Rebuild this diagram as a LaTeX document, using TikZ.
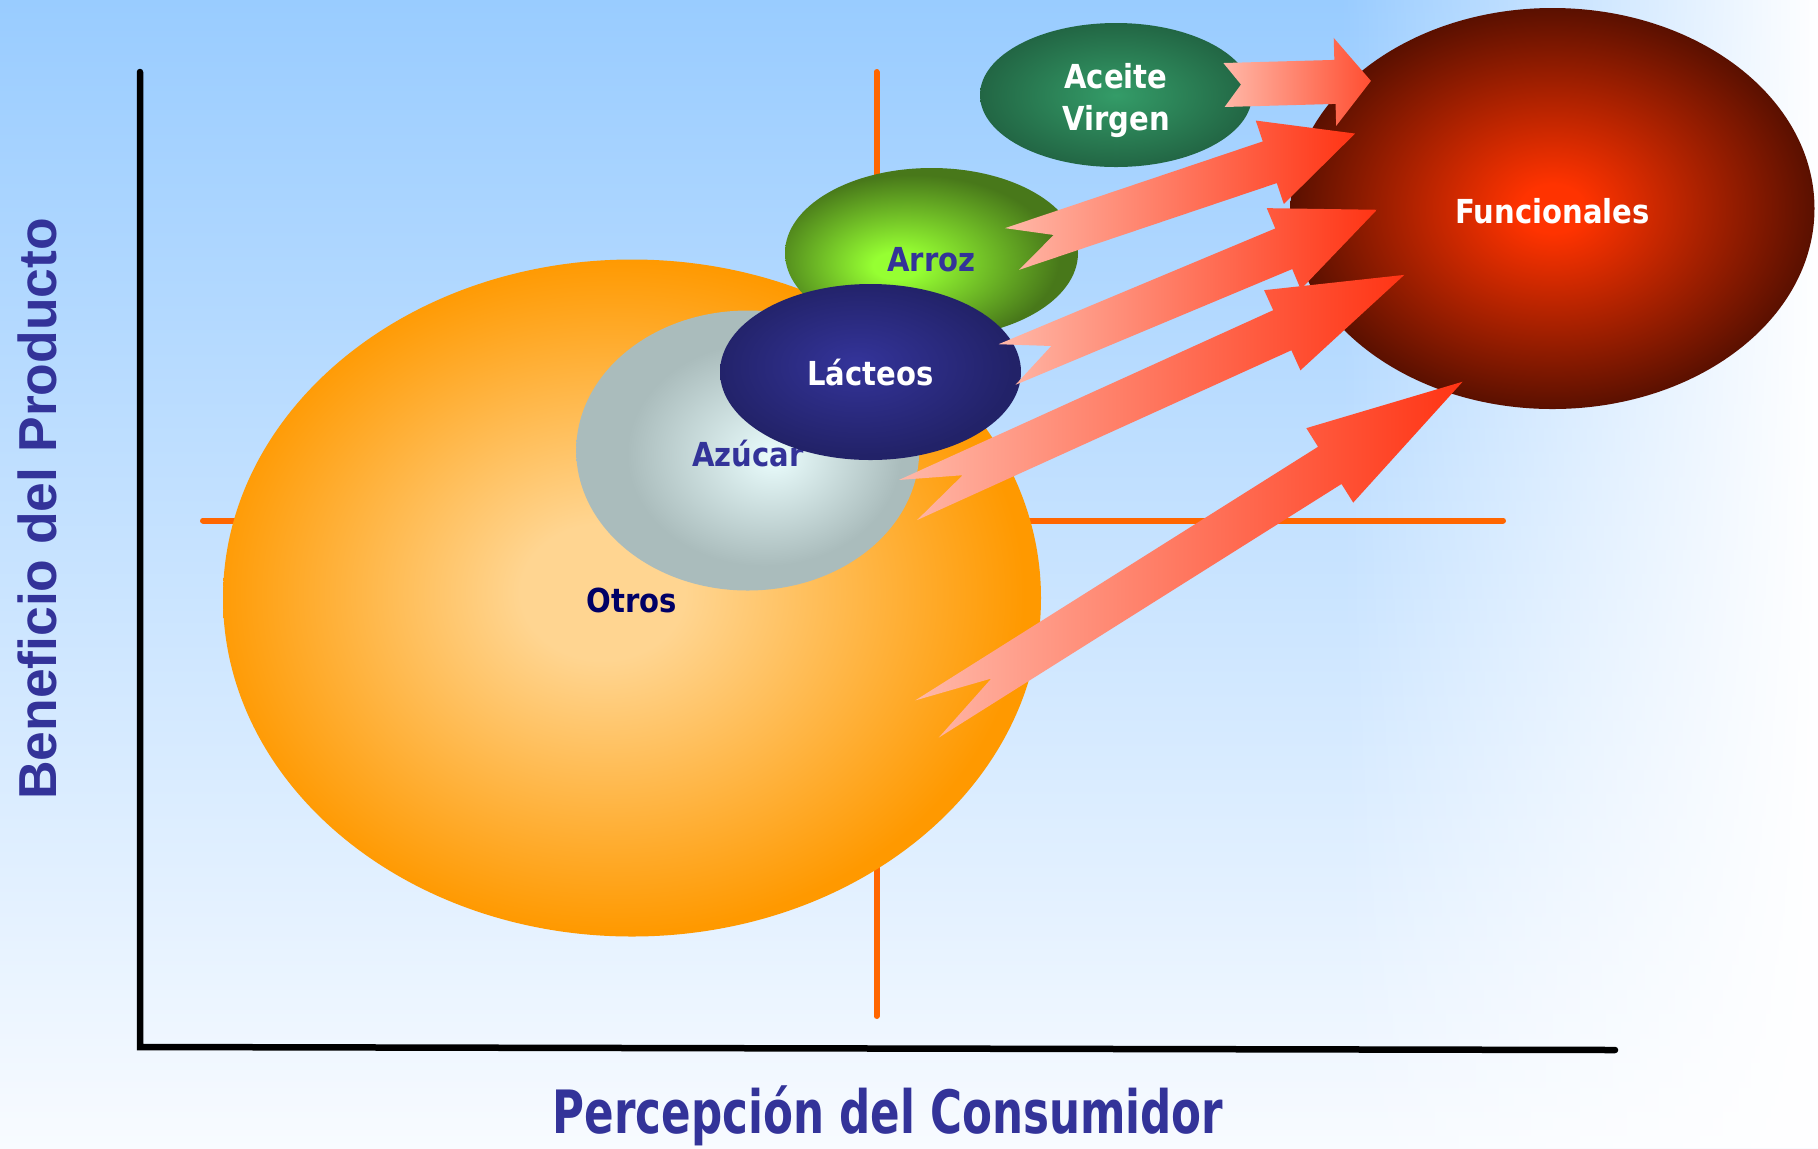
\documentclass[tikz,border=0pt]{standalone}
\usepackage{fontspec}
\newfontfamily\labelfont{DejaVu Sans}[FakeStretch=0.88]
\newfontfamily\narrowfont{DejaVu Sans}[FakeStretch=0.73]
\newfontfamily\axisfont{Liberation Sans}
\usetikzlibrary{shapes, fadings}

\definecolor{bgtop}{RGB}{153,204,255}
\definecolor{bgmid}{RGB}{198,224,255}
\definecolor{bgbot}{RGB}{248,251,255}
\definecolor{axisblue}{RGB}{51,51,153}
\definecolor{otrostext}{RGB}{0,0,102}
\definecolor{crossorange}{RGB}{255,102,0}
\definecolor{otrosin}{RGB}{255,213,145}
\definecolor{otrosout}{RGB}{255,153,0}
\definecolor{azucarin}{RGB}{234,253,253}
\definecolor{azucarout}{RGB}{170,188,188}
\definecolor{arrozin}{RGB}{150,255,50}
\definecolor{arrozout}{RGB}{72,120,26}
\definecolor{lacteosin}{RGB}{52,52,154}
\definecolor{lacteosout}{RGB}{34,34,104}
\definecolor{aceitein}{RGB}{52,156,104}
\definecolor{aceiteout}{RGB}{34,102,68}
\definecolor{funcin}{RGB}{255,51,0}
\definecolor{funcout}{RGB}{90,16,0}
\definecolor{arrowtail}{RGB}{255,184,168}
\definecolor{arrowhead}{RGB}{255,52,20}

\pgfdeclareradialshading{otrosball}{\pgfpoint{-2bp}{0.5bp}}{color(0bp)=(otrosin); color(5bp)=(otrosin); color(25bp)=(otrosout); color(50bp)=(otrosout)}
\pgfdeclareradialshading{azucarball}{\pgfpoint{4bp}{-1bp}}{color(0bp)=(azucarin); color(20bp)=(azucarout); color(50bp)=(azucarout)}
\pgfdeclareradialshading{arrozball}{\pgfpoint{-6.5bp}{-4bp}}{color(0bp)=(arrozin); color(4bp)=(arrozin); color(25bp)=(arrozout); color(50bp)=(arrozout)}
\pgfdeclareradialshading{lacteosball}{\pgfpoint{-2.5bp}{2.5bp}}{color(0bp)=(lacteosin); color(25bp)=(lacteosout); color(50bp)=(lacteosout)}
\pgfdeclareradialshading{aceiteball}{\pgfpoint{0bp}{0bp}}{color(0bp)=(aceitein); color(25bp)=(aceiteout); color(50bp)=(aceiteout)}
\pgfdeclareradialshading{funcball}{\pgfpoint{0bp}{0bp}}{color(0bp)=(funcin); color(3bp)=(funcin); color(25bp)=(funcout); color(50bp)=(funcout)}

\tikzfading[name=fade right side, left color=transparent!100, right color=transparent!0]

\newcommand{\textdrop}[2]{\raisebox{-#1}[\height][\depth]{#2}}

\tikzstyle{blob} = [ellipse, inner sep=0pt]
\tikzstyle{darktext} = [text=axisblue, font=\labelfont\bfseries\fontsize{9.4}{11.9}\selectfont]
\tikzstyle{whitetext} = [text=white, font=\labelfont\bfseries\fontsize{9.4}{11.9}\selectfont]
\tikzstyle{cross} = [crossorange, line width=0.06cm, line cap=round]
\tikzstyle{axis} = [black, line width=0.065cm, line cap=round]
\tikzstyle{fat} = [left color=arrowtail, right color=arrowhead]

% #2 tail, #3 angle, #4 length, #5 head length, #6 notch
\newcommand{\fatarrow}[6][]{%
	\begin{scope}[shift={(#2)}, rotate=#3]
		\shade[fat, #1] (0, 0.22) -- ({#4-#5}, 0.22) -- ({#4-#5}, 0.44) -- (#4, 0)
			-- ({#4-#5}, -0.44) -- ({#4-#5}, -0.22) -- (0, -0.22) -- (#6, 0) -- cycle;
	\end{scope}}

\begin{document}
\begin{tikzpicture}
				\useasboundingbox (0, 0) rectangle (18.18, -11.48);

				% background
				\shade [top color=bgtop, middle color=bgmid, bottom color=bgbot] (0, 0) rectangle (18.18, -11.48);
				\fill [white, path fading=fade right side] (13.4, 0) rectangle (18.18, -11.48);

				% axes
				\coordinate (YTop) at (1.40, -0.72);
				\coordinate (Origin) at (1.40, -10.47);
				\coordinate (XEnd) at (16.15, -10.50);
				\draw [axis] (YTop) -- (Origin) -- (XEnd);

				\node (YLabel) [rotate=90, text=axisblue, font=\axisfont\bfseries\fontsize{15.2}{18}\selectfont] at (0.37, -5.09) {Beneficio del Producto};
				\node (XLabel) [text=axisblue, font=\narrowfont\bfseries\fontsize{17}{20}\selectfont] at (8.88, -11.16) {Percepción del Consumidor};

				% quadrants
				\coordinate (VTop) at (8.765, -0.72);
				\coordinate (VBot) at (8.765, -10.16);
				\coordinate (HLeft) at (2.03, -5.205);
				\coordinate (HRight) at (15.03, -5.205);
				\draw [cross] (VTop) -- (VBot);
				\draw [cross] (HLeft) -- (HRight);

				% markets
				\node (Otros) [blob, shading=otrosball, minimum width=8.18cm, minimum height=6.77cm, text=otrostext, font=\labelfont\bfseries\fontsize{9.4}{11.9}\selectfont] at (6.32, -5.98) {\textdrop{0.02cm}{Otros}};
				\node (Azucar) [blob, shading=azucarball, minimum width=3.43cm, minimum height=2.80cm, darktext] at (7.477, -4.505) {\textdrop{0.03cm}{Azúcar}};
				\node (Arroz) [blob, shading=arrozball, minimum width=2.93cm, minimum height=1.70cm, darktext] at (9.315, -2.53) {\textdrop{0.07cm}{Arroz}};
				\node (Lacteos) [blob, shading=lacteosball, minimum width=3.01cm, minimum height=1.76cm, whitetext] at (8.705, -3.72) {\textdrop{0.01cm}{Lácteos}};
				\node (Aceite) [blob, shading=aceiteball, minimum width=2.72cm, minimum height=1.44cm, whitetext] at (11.16, -0.95) {\textdrop{0.06cm}{\begin{tabular}{@{}c@{}}Aceite\\Virgen\end{tabular}}};
				\node (Funcionales) [blob, shading=funcball, minimum width=5.24cm, minimum height=4.01cm, whitetext] at (15.525, -2.085) {\textdrop{0.03cm}{Funcionales}};

				% arrows
				\coordinate (AceiteTail) at (12.24, -0.85);
				\coordinate (ArrozTail) at (10.12, -2.49);
				\coordinate (LacteosTail) at (10.07, -3.645);
				\coordinate (AzucarTail) at (9.08, -5.00);
				\coordinate (OtrosTail) at (9.27, -7.19);

				\fatarrow[right color=arrowhead!80!arrowtail]{AceiteTail}{1.6}{1.47}{0.36}{0.17}
				\fatarrow{ArrozTail}{18.6}{3.62}{0.90}{0.44}
				\fatarrow{LacteosTail}{22.7}{4.01}{1.01}{0.48}
				\fatarrow{AzucarTail}{24.4}{5.45}{1.34}{0.60}
				\fatarrow{OtrosTail}{32.2}{6.33}{1.57}{0.76}
			\end{tikzpicture}
\end{document}
